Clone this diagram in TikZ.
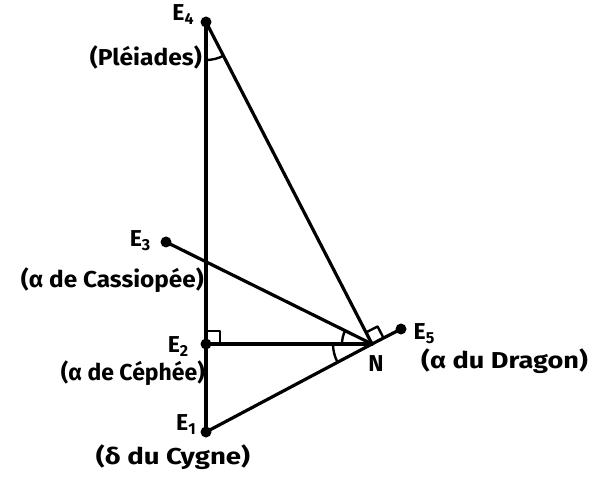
\documentclass[tikz,border=0pt]{standalone}
\usepackage{fontspec}
\setmainfont{Fira Sans}
\usetikzlibrary{calc}
\newcommand{\subx}[1]{{\fontsize{16}{16}\selectfont\raisebox{-4pt}{#1}}}
\begin{document}
\begin{tikzpicture}[x=1pt,y=1pt,
  ln/.style={line width=3.2pt,line cap=round,line join=round},
  arcst/.style={line width=2.4pt,line cap=round,line join=round},
  dot/.style={circle,fill=black,inner sep=0pt,minimum size=11pt},
  lbl/.style={font=\fontsize{23}{24}\selectfont\bfseries,inner sep=0pt}]
\useasboundingbox (0,0) rectangle (597,477);
% points
\node[dot] (E4) at (206,455) {};
\node[dot] (E3) at (166,235) {};
\node[dot] (E2) at (206,133) {};
\node[dot] (E1) at (206,45) {};
\coordinate (N) at (372,133);
\node[dot] (E5) at (401,148) {};
% lines
\draw[ln] (E4.center) -- (E1.center);
\draw[ln] (E4.center) -- (N);
\draw[ln] (E3.center) -- (N);
\draw[ln] (E2.center) -- (N);
\draw[ln] (E1.center) -- (N);
\draw[ln] (N) -- (E5.center);
% angle marks
\draw[arcst] ($(E4.center)+(270:38)$) arc (270:297.4:38);
\draw[arcst] ($(N)+(180:30)$) arc (180:154:30);
\draw[arcst] ($(N)+(180:39)$) arc (180:208:39);
\draw[arcst] ($(E2.center)+(0,13)$) -- ++(14,0) -- ++(0,-13);
\draw[arcst] ($(N)!13pt!(E4.center)$) -- ($(N)!13pt!(E4.center)+(27.4:13)$) -- ($(N)+(27.4:13)$);
% labels
\node[lbl] (tE4) at (183,462) {E\subx{4}};
\node[lbl,anchor=east] (tP) at (202,420) {\scalebox{1.07}[1]{(Pléiades)}};
\node[lbl] (tE3) at (140,236) {E\subx{3}};
\node[lbl,anchor=east] (tCa) at (204,197) {\scalebox{1.06}[1]{(α de Cassiopée)}};
\node[lbl] (tE2) at (178,130) {E\subx{2}};
\node[lbl,anchor=east] (tCe) at (205,104) {(α de Céphée)};
\node[lbl] (tE1) at (186,52) {E\subx{1}};
\node[lbl] (tCy) at (173,20) {\scalebox{1.2}[1]{(δ du Cygne)}};
\node[lbl] (tE5) at (424,143) {E\subx{5}};
\node[lbl,anchor=west] (tD) at (421,116) {\scalebox{1.18}[1]{(α du Dragon)}};
\node[lbl] (tN) at (376,113) {N};
\end{tikzpicture}
\end{document}
